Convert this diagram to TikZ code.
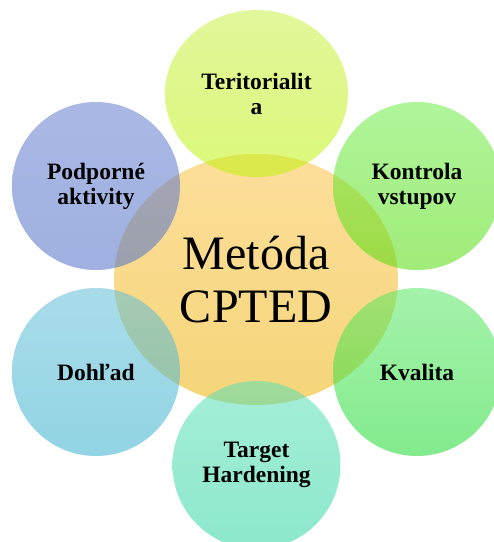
\documentclass[tikz,border=0pt]{standalone}
\usepackage{fontspec}
\setmainfont{Liberation Serif}
\usetikzlibrary{shapes.geometric}
\definecolor{cenT}{RGB}{251,195,73}
\definecolor{cenB}{RGB}{237,179,10}
\definecolor{yelT}{RGB}{202,240,73}
\definecolor{yelB}{RGB}{191,242,10}
\definecolor{bluT}{RGB}{100,126,206}
\definecolor{bluB}{RGB}{80,112,200}
\definecolor{grnT}{RGB}{110,237,73}
\definecolor{grnB}{RGB}{82,220,10}
\definecolor{kvaT}{RGB}{91,231,100}
\definecolor{kvaB}{RGB}{28,219,46}
\definecolor{tarT}{RGB}{91,224,182}
\definecolor{tarB}{RGB}{46,213,164}
\definecolor{dohT}{RGB}{100,191,217}
\definecolor{dohB}{RGB}{55,177,204}
\begin{document}
\begin{tikzpicture}[x=1pt,y=-1pt,
  blob/.style={ellipse, inner sep=0pt, fill opacity=0.55, text opacity=1,
    align=center, font=\fontsize{23.5}{25}\selectfont\bfseries,
    minimum width=168pt, minimum height=168pt}]
\useasboundingbox (0,0) rectangle (494,542);
\node[blob, top color=cenT, bottom color=cenB, minimum width=284pt, minimum height=251pt,
  font=\fontsize{48}{53}\selectfont] (c) at (256,279.5) {Metóda\\CPTED};
\node[blob, top color=yelT, bottom color=yelB, minimum width=183pt, minimum height=167pt] (ter) at (256.5,93.5) {Teritorialit\\a};
\node[blob, top color=bluT, bottom color=bluB] (pod) at (96,186) {Podporné\\aktivity};
\node[blob, top color=grnT, bottom color=grnB] (kon) at (417,186) {Kontrola\\vstupov};
\node[blob, top color=kvaT, bottom color=kvaB] (kva) at (417,372) {Kvalita};
\node[blob, top color=dohT, bottom color=dohB] (doh) at (96,372) {Dohľad};
\node[blob, top color=tarT, bottom color=tarB] (tar) at (256.5,465) {Target\\Hardening};
\end{tikzpicture}
\end{document}
